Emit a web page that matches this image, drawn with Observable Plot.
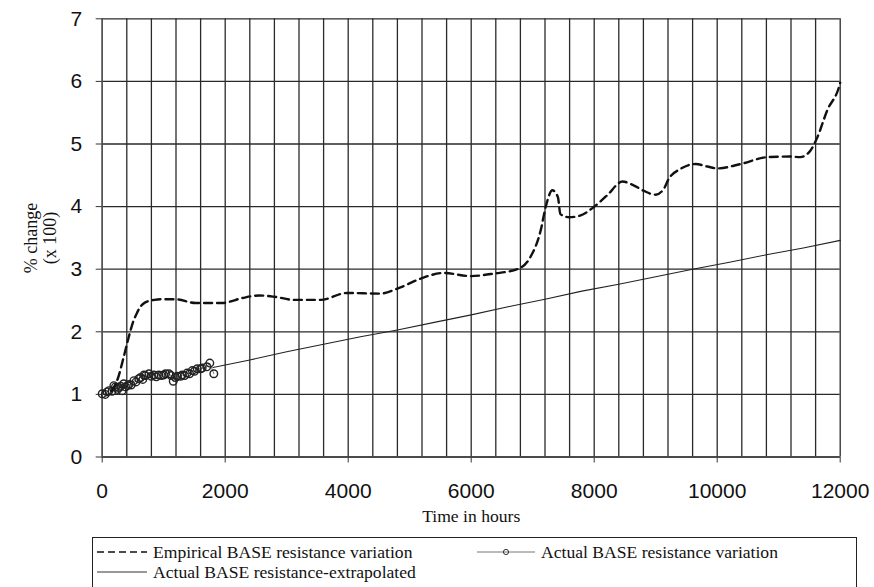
<!DOCTYPE html>
<html>
<head>
<meta charset="utf-8">
<script src="https://cdn.jsdelivr.net/npm/d3@7"></script>
<script src="https://cdn.jsdelivr.net/npm/@observablehq/plot@0.6"></script>
<style>
  html, body { margin: 0; padding: 0; background: #fff; }
  #wrap { position: relative; width: 874px; height: 587px; overflow: hidden; }
  #legend { position: absolute; left: 92px; top: 537px; width: 765px; height: 70px;
            border: 1.2px solid #222; box-sizing: border-box;
            font-family: "Liberation Serif", "Times New Roman", serif; font-size: 17.6px; color: #111; }
  .item { position: absolute; white-space: nowrap; display: flex; align-items: center; line-height: 20px; }
  .item svg { display: block; margin-right: 6px; }
</style>
</head>
<body>
<div id="wrap">
  <div id="chart"></div>
  <div id="legend"></div>
</div>
<script>
// ---- data ----
const empHours = [150, 260, 350, 430, 500, 570, 620, 700, 850, 980, 1190, 1520, 1950, 2280, 2550, 2800, 3120, 3550, 3980, 4520, 4850, 5180, 5550, 5990, 6370, 6750, 6960, 7130, 7210, 7320, 7410, 7450, 7590, 7780, 7990, 8210, 8460, 8640, 8810, 9000, 9130, 9210, 9400, 9650, 9840, 10000, 10380, 10810, 11190, 11350, 11520, 11630, 11790, 11980, 12000];
const empValues = [1.05, 1.27, 1.60, 1.91, 2.15, 2.31, 2.40, 2.47, 2.51, 2.52, 2.52, 2.46, 2.46, 2.54, 2.58, 2.56, 2.51, 2.51, 2.62, 2.61, 2.71, 2.85, 2.94, 2.89, 2.93, 3.00, 3.19, 3.62, 3.99, 4.26, 4.15, 3.88, 3.83, 3.86, 3.99, 4.18, 4.40, 4.34, 4.25, 4.19, 4.28, 4.44, 4.60, 4.68, 4.64, 4.61, 4.68, 4.79, 4.80, 4.79, 4.90, 5.11, 5.54, 5.91, 5.98];

const actHours = [0, 50, 80, 110, 160, 190, 215, 250, 270, 300, 325, 350, 380, 410, 435, 470, 515, 550, 595, 625, 660, 680, 705, 760, 800, 840, 880, 920, 960, 1000, 1030, 1085, 1120, 1155, 1190, 1220, 1275, 1300, 1340, 1380, 1420, 1465, 1500, 1545, 1600, 1625, 1700, 1750, 1815];
const actValues = [1.01, 1.00, 1.04, 1.06, 1.05, 1.14, 1.12, 1.08, 1.11, 1.13, 1.06, 1.17, 1.12, 1.14, 1.16, 1.15, 1.22, 1.20, 1.25, 1.27, 1.24, 1.31, 1.30, 1.33, 1.29, 1.31, 1.28, 1.31, 1.30, 1.31, 1.33, 1.33, 1.30, 1.21, 1.27, 1.29, 1.29, 1.31, 1.30, 1.34, 1.33, 1.38, 1.37, 1.41, 1.41, 1.42, 1.44, 1.50, 1.33];

const extHours = [1800, 2400, 3000, 3600, 4200, 4800, 5400, 6000, 6600, 7200, 7800, 8400, 9000, 9600, 10200, 10800, 11400, 12000];
const extValues = [1.43, 1.55, 1.68, 1.80, 1.92, 2.03, 2.15, 2.27, 2.40, 2.52, 2.65, 2.76, 2.88, 3.00, 3.11, 3.23, 3.34, 3.46];

const xTicks = [0, 2000, 4000, 6000, 8000, 10000, 12000];
const yTicks = [0, 1, 2, 3, 4, 5, 6, 7];
const xGrid = d3.range(0, 12001, 400);

const seriesNames = ["Empirical BASE resistance variation", "Actual BASE resistance variation", "Actual BASE resistance-extrapolated"];
const xLabel = "Time in hours";
const yLabelLines = ["% change", "(x 100)"];

const emp = empHours.map((h, i) => ({h, v: empValues[i]}));
const act = actHours.map((h, i) => ({h, v: actValues[i]}));
const ext = extHours.map((h, i) => ({h, v: extValues[i]}));

const sans = "'Liberation Sans', Arial, sans-serif";
const serif = "'Liberation Serif', 'Times New Roman', serif";
const gridColor = "#2a2a2a";

const chart = Plot.plot({
  width: 874,
  height: 530,
  marginLeft: 101.7,
  marginRight: 34.3,
  marginTop: 18.3,
  marginBottom: 73.5,
  style: {background: "#fff", color: "#111"},
  x: {domain: [0, 12000]},
  y: {domain: [0, 7]},
  marks: [
    Plot.gridX(xGrid, {stroke: gridColor, strokeOpacity: 1, strokeWidth: 1.3}),
    Plot.gridY(yTicks, {stroke: gridColor, strokeOpacity: 1, strokeWidth: 1.3}),
    Plot.axisX({ticks: xTicks, tickSize: 6, tickPadding: 20, tickFormat: d => String(d), label: null,
                fontSize: 21, fontFamily: sans, stroke: "#333"}),
    Plot.axisY({ticks: yTicks, tickSize: 6, tickPadding: 14, tickFormat: d => String(d), label: null,
                fontSize: 21, fontFamily: sans, stroke: "#333"}),
    Plot.ruleY([0], {stroke: "#444", strokeWidth: 1.3}),
    Plot.ruleX([0], {stroke: "#555", strokeWidth: 1.3}),
    Plot.line(ext, {x: "h", y: "v", stroke: "#222", strokeWidth: 1.1}),
    Plot.line(act, {x: "h", y: "v", stroke: "#555", strokeWidth: 0.8}),
    Plot.dot(act, {x: "h", y: "v", r: 3.8, stroke: "#222", strokeWidth: 1.4, fill: "none"}),
    Plot.line(emp, {x: "h", y: "v", stroke: "#111", strokeWidth: 2.4, strokeDasharray: "8,5", curve: "monotone-x"}),
    Plot.text([xLabel], {frameAnchor: "bottom", dy: 65, fontSize: 17.6, fontFamily: serif, fill: "#111"}),
    Plot.text([yLabelLines[0]], {frameAnchor: "left", textAnchor: "middle", dx: -71, rotate: -90, fontSize: 18, fontFamily: serif, fill: "#111"}),
    Plot.text([yLabelLines[1]], {frameAnchor: "left", textAnchor: "middle", dx: -52, rotate: -90, fontSize: 18, fontFamily: serif, fill: "#111"})
  ]
});
document.getElementById("chart").appendChild(chart);

// ---- legend ----
const legend = document.getElementById("legend");
function sample(kind) {
  const ns = "http://www.w3.org/2000/svg";
  const s = document.createElementNS(ns, "svg");
  s.setAttribute("width", kind === "dot" ? 58 : 50);
  s.setAttribute("height", 12);
  const l = document.createElementNS(ns, "line");
  l.setAttribute("x1", 0); l.setAttribute("x2", kind === "dot" ? 58 : 50);
  l.setAttribute("y1", 6); l.setAttribute("y2", 6);
  if (kind === "dash") { l.setAttribute("stroke", "#111"); l.setAttribute("stroke-width", 1.6); l.setAttribute("stroke-dasharray", "7,4"); }
  else if (kind === "dot") { l.setAttribute("stroke", "#777"); l.setAttribute("stroke-width", 1); }
  else { l.setAttribute("stroke", "#333"); l.setAttribute("stroke-width", 1); }
  s.appendChild(l);
  if (kind === "dot") {
    const c = document.createElementNS(ns, "circle");
    c.setAttribute("cx", 29); c.setAttribute("cy", 6); c.setAttribute("r", 2.6);
    c.setAttribute("fill", "none"); c.setAttribute("stroke", "#333"); c.setAttribute("stroke-width", 1);
    s.appendChild(c);
  }
  return s;
}
function addItem(kind, text, left, top) {
  const d = document.createElement("div");
  d.className = "item";
  d.style.left = left + "px";
  d.style.top = top + "px";
  d.appendChild(sample(kind));
  const sp = document.createElement("span");
  sp.textContent = text;
  d.appendChild(sp);
  legend.appendChild(d);
}
addItem("dash", seriesNames[0], 4, 4);
addItem("dot", seriesNames[1], 384, 4);
addItem("solid", seriesNames[2], 4, 24);
</script>
</body>
</html>
